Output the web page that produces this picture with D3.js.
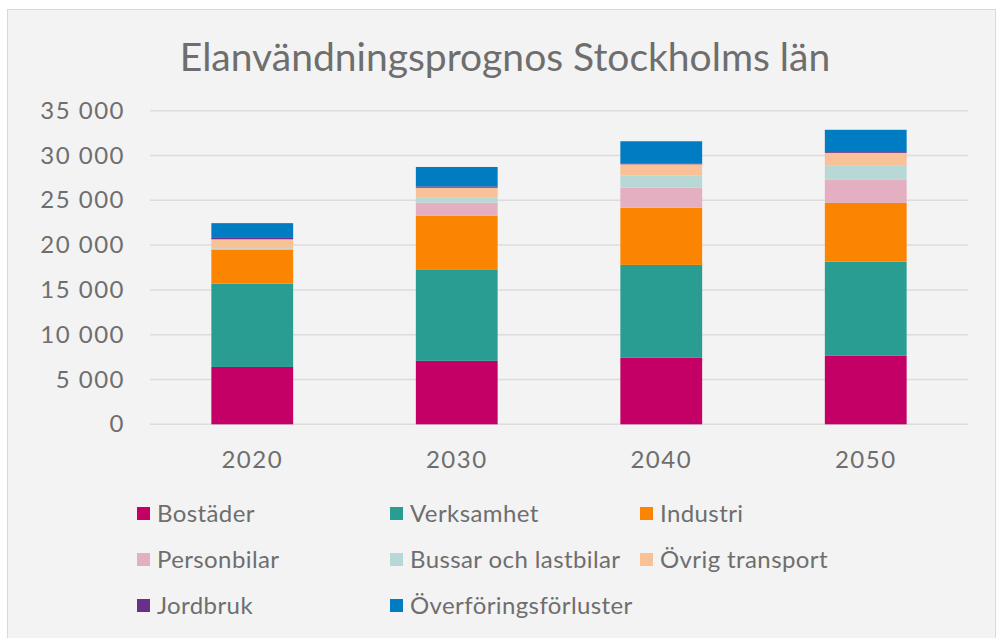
<!DOCTYPE html>
<html>
<head>
<meta charset="utf-8">
<script src="https://cdn.jsdelivr.net/npm/d3@7"></script>
<style>
  html, body { margin: 0; padding: 0; background: #fff; }
  svg { display: block; font-family: Lato, "Noto Sans", sans-serif; }
</style>
</head>
<body>
<svg id="chart" width="997" height="638"></svg>
<script>
// years on the x axis
var years = ['2020', '2030', '2040', '2050'];

// series (GWh)
var bostader     = [6400, 7080, 7420, 7640];
var verksamhet   = [9300, 10220, 10370, 10510];
var industri     = [3800, 6000, 6380, 6560];
var personbilar  = [50, 1450, 2240, 2570];
var bussar       = [100, 530, 1380, 1640];
var ovrig        = [1000, 1120, 1230, 1380];
var jordbruk     = [150, 150, 110, 190];
var overforing   = [1650, 2170, 2460, 2380];

var seriesNames = ['Bostäder', 'Verksamhet', 'Industri', 'Personbilar',
    'Bussar och lastbilar', 'Övrig transport', 'Jordbruk', 'Överföringsförluster'];
var seriesValues = [bostader, verksamhet, industri, personbilar, bussar, ovrig, jordbruk, overforing];
var colors = ['#c40066', '#2a9d93', '#fb8500', '#e4afc0', '#b7d8d5', '#f9c197', '#6a3089', '#007cc3'];

var yTicks = [0, 5000, 10000, 15000, 20000, 25000, 30000, 35000];

var svg = d3.select('#chart');
var textColor = '#6e6e6e';

// chart frame
svg.append('rect')
    .attr('x', 7.5).attr('y', 9.5)
    .attr('width', 988).attr('height', 640)
    .attr('fill', '#f3f3f3')
    .attr('stroke', '#d9d9d9');

svg.append('text')
    .attr('x', 505).attr('y', 71)
    .attr('text-anchor', 'middle')
    .attr('font-size', 39)
    .attr('fill', textColor)
    .text('Elanvändningsprognos Stockholms län');

var x = d3.scaleBand()
    .domain(years)
    .range([150, 968])
    .paddingInner(0.6)
    .paddingOuter(0.3);

var y = d3.scaleLinear()
    .domain([0, 35000])
    .range([424.3, 110.7]);

// grid lines
svg.append('g').selectAll('line')
    .data(yTicks)
    .enter().append('line')
    .attr('x1', 150).attr('x2', 968)
    .attr('y1', function(d) { return y(d); })
    .attr('y2', function(d) { return y(d); })
    .attr('stroke', '#dcdcdc')
    .attr('stroke-width', 1.5);

var fmt = function(d) { return d3.format(',')(d).replace(/,/g, ' '); };

var yAxis = svg.append('g')
    .attr('transform', 'translate(125,0)')
    .call(d3.axisLeft(y).tickValues(yTicks).tickSize(0).tickPadding(0).tickFormat(fmt));
yAxis.select('.domain').remove();
yAxis.selectAll('text')
    .attr('font-family', 'Lato, "Noto Sans", sans-serif')
    .attr('font-size', 24)
    .attr('letter-spacing', 1.5)
    .attr('fill', textColor);

var xAxis = svg.append('g')
    .attr('transform', 'translate(0,424)')
    .call(d3.axisBottom(x).tickSize(0).tickPadding(27));
xAxis.select('.domain').remove();
xAxis.selectAll('text')
    .attr('font-family', 'Lato, "Noto Sans", sans-serif')
    .attr('font-size', 24)
    .attr('letter-spacing', 1.5)
    .attr('fill', textColor);

// stacked bars
var rows = years.map(function(yr, i) {
    var row = { year: yr };
    seriesNames.forEach(function(name, j) { row[name] = seriesValues[j][i]; });
    return row;
});

var stacked = d3.stack().keys(seriesNames)(rows);

svg.append('g').selectAll('g')
    .data(stacked)
    .enter().append('g')
    .attr('fill', function(d, i) { return colors[i]; })
    .selectAll('rect')
    .data(function(d) { return d; })
    .enter().append('rect')
    .attr('x', function(d) { return x(d.data.year); })
    .attr('width', x.bandwidth())
    .attr('y', function(d) { return y(d[1]); })
    .attr('height', function(d) { return y(d[0]) - y(d[1]); });

// legend
var legendCols = [137, 390, 640];
var legendRows = [514, 560, 606];

var legend = svg.append('g').selectAll('g')
    .data(seriesNames)
    .enter().append('g')
    .attr('transform', function(d, i) {
        return 'translate(' + legendCols[i % 3] + ',' + legendRows[Math.floor(i / 3)] + ')';
    });

legend.append('rect')
    .attr('x', 0).attr('y', -7)
    .attr('width', 13).attr('height', 13)
    .attr('fill', function(d, i) { return colors[i]; });

legend.append('text')
    .attr('x', 20).attr('y', 8)
    .attr('font-size', 24)
    .attr('letter-spacing', 0.4)
    .attr('fill', textColor)
    .text(function(d) { return d; });
</script>
</body>
</html>
